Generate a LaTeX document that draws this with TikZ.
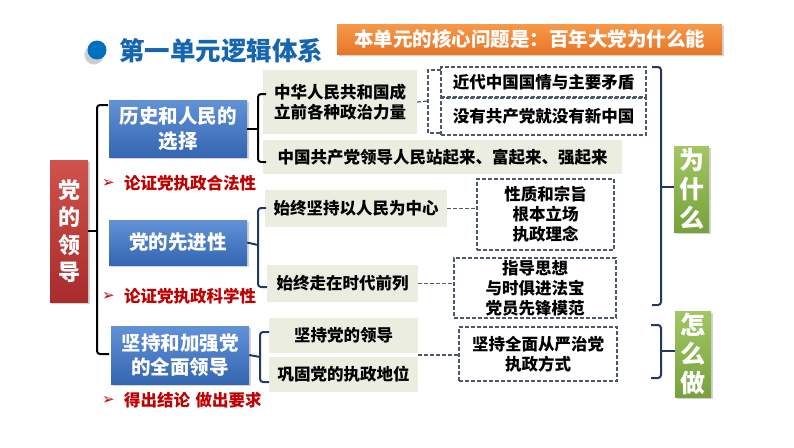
\documentclass[tikz,border=0pt]{standalone}
\usepackage{fontspec}
\setmainfont{Noto Sans CJK SC}
\newfontfamily\dejavu{DejaVu Sans}
\usetikzlibrary{shadows,calc}
\definecolor{ttlblue}{RGB}{21,101,176}
\definecolor{dotblue}{RGB}{0,112,192}
\definecolor{orgtop}{RGB}{248,152,72}
\definecolor{orgbot}{RGB}{232,118,42}
\definecolor{bltop}{RGB}{98,146,214}
\definecolor{blbot}{RGB}{52,102,178}
\definecolor{rdtop}{RGB}{208,82,76}
\definecolor{rdbot}{RGB}{168,44,44}
\definecolor{grtop}{RGB}{162,198,98}
\definecolor{grbot}{RGB}{118,162,60}
\definecolor{beige}{RGB}{235,237,225}
\definecolor{dshcol}{RGB}{78,88,108}
\definecolor{navy}{RGB}{31,56,100}
\definecolor{redtxt}{RGB}{192,0,0}
\tikzset{
  fsz/.style 2 args={font=\bfseries\fontsize{#1}{#2}\selectfont},
  colbox/.style={inner sep=0pt, align=center, text=white,
    drop shadow={shadow xshift=1.5pt, shadow yshift=-1.5pt, opacity=0.35}},
  bluebox/.style={colbox, top color=bltop, bottom color=blbot, fsz={19.5}{24.5}},
  greenbox/.style={colbox, top color=grtop, bottom color=grbot, fsz={25}{29}},
  graybox/.style={inner sep=0pt, align=center, fill=beige, text=black, fsz={16.5}{19.5}},
  dashbox/.style={inner sep=0pt, align=center, draw=dshcol, line width=1.2pt,
    dash pattern=on 4pt off 2pt, text=black, fsz={16.5}{20}},
  dashline/.style={draw=dshcol, line width=1.2pt, dash pattern=on 4pt off 2pt},
  navyline/.style={draw=navy, line width=2pt, rounded corners=3pt},
  blackline/.style={draw=black, line width=2pt, rounded corners=3pt},
  redlabel/.style={anchor=west, inner sep=0pt, text=redtxt, fsz={16.5}{20}},
  redarrow/.style={inner sep=0pt, text=redtxt, font=\dejavu\fontsize{15}{16}\selectfont},
}
\begin{document}
\begin{tikzpicture}[x=1pt,y=-1pt]
\useasboundingbox (0,0) rectangle (794,447);
% title
\node[circle, fill=dotblue, minimum size=19pt, inner sep=0pt,
  circular drop shadow={shadow xshift=-3pt, shadow yshift=-4pt, opacity=0.4}] (dot) at (97,50) {};
\node[anchor=west, inner sep=0pt, text=ttlblue, fsz={25.5}{28}] (title) at (119,51) {第一单元逻辑体系};
\node[colbox, top color=orgtop, bottom color=orgbot, minimum width=385pt, minimum height=30pt,
  fsz={19.5}{22}] (core) at (529.5,39) {本单元的核心问题是：百年大党为什么能};
% lead box
\node[colbox, top color=rdtop, bottom color=rdbot, minimum width=38pt, minimum height=142pt,
  fsz={22}{27.5}] (lead) at (69,231) {党\\的\\领\\导};
% blue boxes
\node[bluebox, minimum width=138pt, minimum height=57pt] (b1) at (178,128.5) {历史和人民的\\选择};
\node[bluebox, minimum width=138pt, minimum height=45pt] (b2) at (178,242.5) {党的先进性};
\node[bluebox, minimum width=138pt, minimum height=58pt] (b3) at (180,355) {坚持和加强党\\的全面领导};
% red labels
\node[redarrow] (ra1) at (108.5,183) {➢};
\node[redlabel] (r1) at (124,183) {论证党执政合法性};
\node[redarrow] (ra2) at (108.5,296) {➢};
\node[redlabel] (r2) at (124,296) {论证党执政科学性};
\node[redarrow] (ra3) at (108.5,400) {➢};
\node[redlabel] (r3) at (124,400) {得出结论\,\,做出要求};
% gray boxes
\node[graybox, minimum width=154pt, minimum height=64pt, align=left] (g1) at (340,102) {中华人民共和国成\\立前各种政治力量};
\node[graybox, minimum width=359pt, minimum height=34pt] (g2) at (442.5,157) {中国共产党领导人民站起来、富起来、强起来};
\node[graybox, minimum width=182pt, minimum height=37pt] (g3) at (356,208.5) {始终坚持以人民为中心};
\node[graybox, minimum width=151pt, minimum height=37pt] (g4) at (342.5,283.5) {始终走在时代前列};
\node[graybox, minimum width=149pt, minimum height=35pt] (g5) at (343.5,335.5) {坚持党的领导};
\node[graybox, minimum width=149pt, minimum height=35pt] (g6) at (343.5,374.5) {巩固党的执政地位};
% dashed boxes
\node[dashbox, minimum width=205pt, minimum height=30pt] (da) at (543.5,82) {近代中国国情与主要矛盾};
\node[dashbox, minimum width=205pt, minimum height=37pt] (db) at (543.5,116.5) {没有共产党就没有新中国};
\node[dashbox, minimum width=137pt, minimum height=71pt] (dc) at (545.5,214.5) {性质和宗旨\\根本立场\\执政理念};
\node[dashbox, minimum width=162pt, minimum height=60pt] (dd) at (535,288) {指导思想\\与时俱进法宝\\党员先锋模范};
\node[dashbox, minimum width=158pt, minimum height=54pt] (de) at (538,354) {坚持全面从严治党\\执政方式};
% green boxes
\node[greenbox, minimum width=35pt, minimum height=86pt] (why) at (691.5,189) {为\\什\\么};
\node[greenbox, minimum width=36pt, minimum height=86pt] (how) at (693,354) {怎\\么\\做};
% brackets: lead
\draw[blackline] (lead.east) -- (97,231);
\draw[blackline] (108,105) -- (97,105) -- (97,354) -- (109,354);
% b1 bracket
\draw[blackline] (b1.east) -- (258,128.5);
\draw[blackline] (266,94) -- (258,94) -- (258,162) -- (266,162);
% b2 bracket
\draw[navyline] (b2.east) -- (258,245);
\draw[navyline] (266,208) -- (258,208) -- (258,287) -- (267,287);
% b3 bracket
\draw[navyline] (b3.east) -- (260,357);
\draw[navyline] (269,332) -- (260,332) -- (260,382) -- (269,382);
% dashed connectors
\draw[dashline] (g1.east) -- (428,101);
\draw[dashline] (441,70) -- (428,70) -- (428,133) -- (441,133);
\draw[dashline] (g3.east) -- (g3.east -| dc.west);
\draw[dashline] (g4.east) -- (g4.east -| dd.west);
\coordinate (g56) at ($(g5.south east)!0.5!(g6.north east)$);
\draw[dashline] (g56) -- (g56 -| de.west);
% right brackets
\draw[navyline] (652,67) -- (661,67) -- (661,305) -- (652,305);
\draw[navyline] (661,187) -- (why.west |- 0,187);
\draw[navyline] (651,325) -- (661,325) -- (661,378) -- (651,378);
\draw[navyline] (661,351) -- (how.west |- 0,351);
\end{tikzpicture}
\end{document}
